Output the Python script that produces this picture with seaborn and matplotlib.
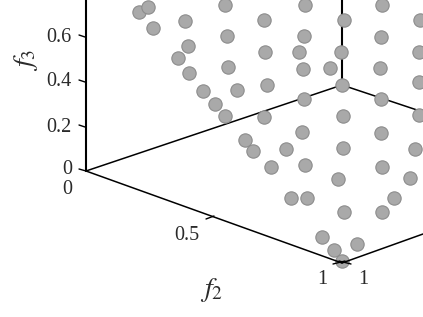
import matplotlib
matplotlib.use('Agg')
import matplotlib.pyplot as plt
import pandas as pd
import seaborn as sns

# points as projected on the page
proj_x = [139, 148, 153, 185, 188, 178, 189, 203, 215,
          225, 305, 382, 264, 344, 420, 227, 304, 381, 265, 299, 341, 419,
          228, 303, 330, 380, 419, 237, 267, 342, 225, 304, 381, 264, 343, 419,
          245, 253, 286, 302, 343, 381, 415,
          271, 305, 338, 382, 410, 291, 307, 394, 344, 382, 322, 334, 357, 342]
proj_y = [12, 7, 28, 21, 46, 58, 73, 91, 104,
          5, 5, 5, 20, 20, 20, 36, 36, 37, 52, 52, 52, 52,
          67, 69, 68, 68, 82, 90, 85, 85, 116, 99, 99, 117, 116, 115,
          140, 151, 149, 132, 148, 133, 149,
          167, 165, 179, 167, 178, 198, 198, 198, 212, 212, 237, 250, 244, 261]

z_ticks = [36, 81, 126]
z_labels = ['0.6', '0.4', '0.2']

FS = 14.5
TXT = '#2a2a2a'

df = pd.DataFrame({'x': proj_x, 'y': proj_y})

sns.set_style('white')
plt.rcParams['font.family'] = ['Liberation Serif', 'DejaVu Sans']
plt.rcParams['mathtext.fontset'] = 'stix'

fig = plt.figure(figsize=(4.23, 3.17), dpi=100)
ax = fig.add_axes([0, 0, 1, 1])

# back walls go under the points
ax.plot([86, 86], [0, 171], color='black', lw=1.5, zorder=1)
ax.plot([342, 342], [0, 85], color='black', lw=1.5, zorder=1)
ax.plot([86, 342], [171, 85], color='black', lw=1.1, zorder=1)
ax.plot([342, 423], [85, 112], color='black', lw=1.1, zorder=1)

sns.scatterplot(data=df, x='x', y='y', ax=ax, s=92, color='#a9a9a9',
                edgecolor='#8c8c8c', linewidth=0.8, zorder=2)

# front edges sit on top
ax.plot([86, 342], [171, 263], color='black', lw=1.1, zorder=3)
ax.plot([342, 423], [263, 234], color='black', lw=1.1, zorder=3)

# ticks
for t in z_ticks:
    ax.plot([79, 85], [t - 1, t + 1], color='black', lw=1, zorder=1)
ax.plot([79, 86], [169, 171], color='black', lw=1, zorder=1)
ax.plot([206, 214], [219, 216], color='black', lw=1, zorder=1)
ax.plot([333, 345], [264, 261], color='black', lw=1, zorder=3)
ax.plot([339, 351], [261, 264], color='black', lw=1, zorder=3)

for t, lab in zip(z_ticks, z_labels):
    ax.text(59, t + 1, lab, fontsize=FS, color=TXT, ha='center', va='center')
ax.text(67, 170, '0', fontsize=FS, color=TXT, ha='center', va='center')
ax.text(67, 190, '0', fontsize=FS, color=TXT, ha='center', va='center')
ax.text(187, 235, '0.5', fontsize=FS, color=TXT, ha='center', va='center')
ax.text(322, 279, '1', fontsize=FS, color=TXT, ha='center', va='center')
ax.text(363, 279, '1', fontsize=FS, color=TXT, ha='center', va='center')

ax.text(26, 60, r'$f_3$', fontsize=20, color=TXT, rotation=90, ha='center', va='center')
ax.text(212, 290, r'$f_2$', fontsize=20, color=TXT, ha='center', va='center')

ax.set_xlim(0, 423)
ax.set_ylim(317, 0)
ax.set_axis_off()

fig.savefig('out.png', dpi=100, facecolor='white')
